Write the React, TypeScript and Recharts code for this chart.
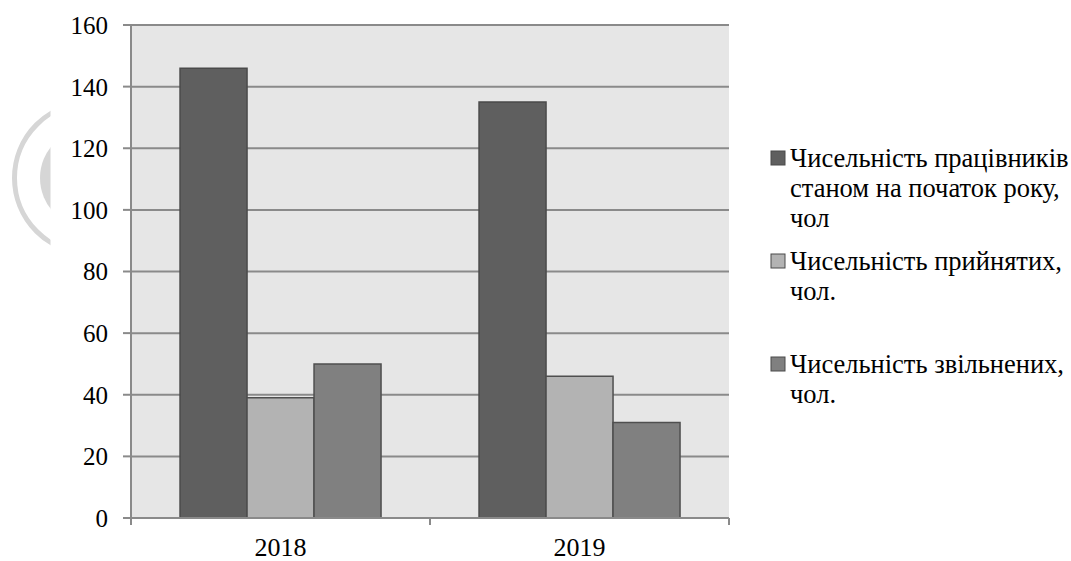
import React from "react";
import {
  BarChart,
  Bar,
  XAxis,
  YAxis,
  CartesianGrid,
  Legend,
  Customized,
} from "recharts";

// Staff movement by year
const years = ["2018", "2019"];
const staffAtYearStart = [146, 135];
const hired = [39, 46];
const dismissed = [50, 31];
const yTicks = [0, 20, 40, 60, 80, 100, 120, 140, 160];

const seriesKeys = ["staff", "hired", "dismissed"];
const seriesNames = [
  "Чисельність працівників станом на початок року, чол",
  "Чисельність прийнятих, чол.",
  "Чисельність звільнених, чол.",
];
const seriesColors = ["#5f5f5f", "#b3b3b3", "#808080"];
// legend labels as they wrap in the legend block
const legendLines = [
  ["Чисельність працівників", "станом на початок року,", "чол"],
  ["Чисельність прийнятих,", "чол."],
  ["Чисельність звільнених,", "чол."],
];

const data = years.map((year, i) => ({
  year,
  staff: staffAtYearStart[i],
  hired: hired[i],
  dismissed: dismissed[i],
}));

const FONT = '"Liberation Serif", "Times New Roman", serif';
const W = 1071;
const H = 561;
const AXIS_GRAY = "#8a8a8a";

const XTick = (props: any) => {
  const { x, y, payload, index, visibleTicksCount } = props;
  const half = payload?.offset ?? 0;
  const isLast = index === (visibleTicksCount ?? 2) - 1;
  return (
    <g>
      <line x1={x - half} x2={x - half} y1={y} y2={y + 7} stroke={AXIS_GRAY} strokeWidth={2} />
      {isLast && (
        <line x1={x + half} x2={x + half} y1={y} y2={y + 7} stroke={AXIS_GRAY} strokeWidth={2} />
      )}
      <text x={x} y={y + 38} textAnchor="middle" fontFamily={FONT} fontSize={26} fill="#000">
        {payload.value}
      </text>
    </g>
  );
};

// faint circular emblem at the left edge of the page
const Emblem = () => (
  <g>
    <defs>
      <clipPath id="emblemClip">
        <rect x={0} y={0} width={50.5} height={H} />
      </clipPath>
    </defs>
    <g clipPath="url(#emblemClip)">
      <circle cx={90} cy={178} r={75.5} fill="none" stroke="#d6d6d6" strokeWidth={5} />
      <circle cx={90} cy={178} r={50} fill="#d6d6d6" />
    </g>
  </g>
);

const LegendBlock = (props: any) => {
  const payload: any[] = props.payload || [];
  const entryTop = 167;
  const entryStep = 103;
  const lineStep = 30;
  return (
    <svg width={W} height={H} style={{ position: "absolute", left: 0, top: 0, pointerEvents: "none" }}>
      {seriesKeys.map((key, i) => {
        const item = payload.find((p) => p.dataKey === key);
        const color = item?.color ?? seriesColors[i];
        const base = entryTop + i * entryStep;
        const lines = legendLines[i];
        return (
          <g key={key}>
            <rect
              x={771}
              y={base - 16}
              width={14}
              height={14}
              fill={color}
              stroke="#4a4a4a"
              strokeWidth={1}
            />
            {lines.map((ln, j) => (
              <text
                key={j}
                x={790}
                y={base + j * lineStep}
                fontFamily={FONT}
                fontSize={26.5}
                fill="#000"
              >
                {ln}
              </text>
            ))}
          </g>
        );
      })}
    </svg>
  );
};

export default function App() {
  return (
    <div style={{ position: "absolute", left: 0, top: 0, width: W, height: H, background: "#fff" }}>
      <BarChart
        width={W}
        height={H}
        data={data}
        margin={{ top: 25, right: 342, bottom: 0, left: 0 }}
        barCategoryGap="16.4%"
        barGap={0}
      >
        <Customized component={<Emblem />} />
        <CartesianGrid
          vertical={false}
          horizontal
          fill="#e6e6e6"
          stroke={AXIS_GRAY}
          strokeWidth={2}
        />
        <XAxis
          dataKey="year"
          height={43}
          tickLine={false}
          tickSize={0}
          tickMargin={0}
          axisLine={{ stroke: AXIS_GRAY, strokeWidth: 2 }}
          tick={<XTick />}
          interval={0}
        />
        <YAxis
          width={131}
          domain={[0, 160]}
          ticks={yTicks}
          interval={0}
          tickSize={8}
          tickMargin={15}
          tickLine={{ stroke: AXIS_GRAY, strokeWidth: 2 }}
          axisLine={{ stroke: AXIS_GRAY, strokeWidth: 2 }}
          tick={{ fontFamily: FONT, fontSize: 25, fill: "#000" }}
        />
        <Legend
          layout="horizontal"
          align="center"
          verticalAlign="middle"
          content={<LegendBlock />}
          wrapperStyle={{ position: "absolute", left: 0, top: 0, width: W, height: H }}
        />
        <Bar
          dataKey={seriesKeys[0]}
          name={seriesNames[0]}
          fill={seriesColors[0]}
          stroke="#4a4a4a"
          strokeWidth={1.5}
          isAnimationActive={false}
        />
        <Bar
          dataKey={seriesKeys[1]}
          name={seriesNames[1]}
          fill={seriesColors[1]}
          stroke="#4f4f4f"
          strokeWidth={1.5}
          isAnimationActive={false}
        />
        <Bar
          dataKey={seriesKeys[2]}
          name={seriesNames[2]}
          fill={seriesColors[2]}
          stroke="#4f4f4f"
          strokeWidth={1.5}
          isAnimationActive={false}
        />
      </BarChart>
    </div>
  );
}
